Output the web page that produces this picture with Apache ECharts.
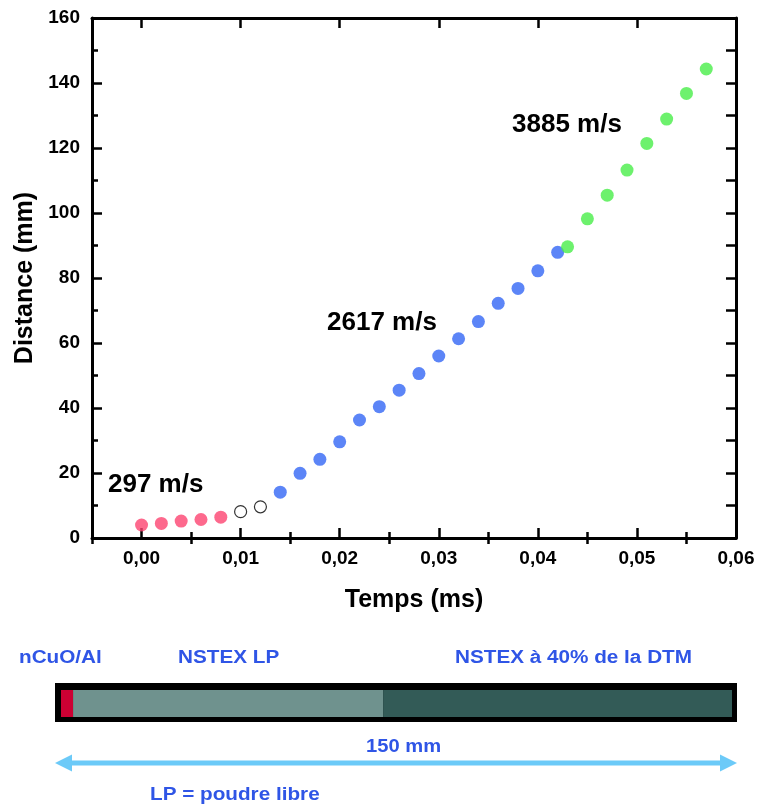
<!DOCTYPE html>
<html>
<head>
<meta charset="utf-8">
<script src="https://cdn.jsdelivr.net/npm/echarts@6/dist/echarts.min.js"></script>
<style>html,body{margin:0;padding:0;background:#fff;}#c{width:762px;height:805px;}</style>
</head>
<body>
<div id="c"></div>
<script>
// ---- data ----
var tRed = [0.000, 0.002, 0.004, 0.006, 0.008];
var dRed = [4.0, 4.5, 5.2, 5.7, 6.4];
var tOpen = [0.010, 0.012];
var dOpen = [8.1, 9.6];
var tBlue = [0.014, 0.016, 0.018, 0.020, 0.022, 0.024, 0.026, 0.028, 0.030, 0.032, 0.034, 0.036, 0.038, 0.040, 0.042];
var dBlue = [14.1, 19.9, 24.2, 29.6, 36.3, 40.4, 45.5, 50.6, 56.0, 61.3, 66.6, 72.2, 76.8, 82.2, 87.9];
var tGreen = [0.043, 0.045, 0.047, 0.049, 0.051, 0.053, 0.055, 0.057];
var dGreen = [89.6, 98.2, 105.5, 113.2, 121.4, 128.9, 136.8, 144.3];
var xMajor = [0.00, 0.01, 0.02, 0.03, 0.04, 0.05, 0.06];
var xMinor = [-0.005, 0.005, 0.015, 0.025, 0.035, 0.045, 0.055];
var speedLabels = ['297 m/s', '2617 m/s', '3885 m/s'];
var segNames = ['nCuO/Al', 'NSTEX LP', 'NSTEX à 40% de la DTM'];
var segLengths = [2.7, 69.3, 78.0]; // mm, total 150
var tubeLength = '150 mm';
var footnote = 'LP = poudre libre';

function pairs(xs, ys) { return xs.map(function (x, i) { return [x, ys[i]]; }); }

var FONT = '"Liberation Sans", Arial, sans-serif';
var lineStyle = { color: '#000', width: 3 };
var tickStyle = { color: '#000', width: 2.5 };

var chart = echarts.init(document.getElementById('c'), null, { renderer: 'canvas' });

var option = {
  backgroundColor: '#fff',
  animation: false,
  grid: [
    { left: 92, right: 26, top: 18, bottom: 267 },
    { left: 61, right: 30, top: 690, height: 27 }
  ],
  xAxis: [
    {
      type: 'value', gridIndex: 0, position: 'bottom', min: -0.005, max: 0.06,
      name: 'Temps (ms)', nameLocation: 'middle', nameGap: 50,
      nameTextStyle: { fontFamily: FONT, fontWeight: 'bold', fontSize: 25, color: '#000' },
      axisLine: { show: true, onZero: false, lineStyle: lineStyle },
      axisTick: { show: true, inside: true, length: 10, lineStyle: tickStyle, customValues: xMajor },
      axisLabel: {
        show: true, margin: 11, customValues: xMajor,
        fontFamily: FONT, fontWeight: 'bold', fontSize: 19, color: '#000',
        formatter: function (v) { return v.toFixed(2).replace('.', ','); }
      },
      splitLine: { show: false }
    },
    {
      type: 'value', gridIndex: 0, position: 'bottom', min: -0.005, max: 0.06,
      axisLine: { show: false },
      axisTick: { show: true, inside: true, length: 6, lineStyle: tickStyle, customValues: xMinor },
      axisLabel: { show: false }, splitLine: { show: false }
    },
    {
      type: 'value', gridIndex: 0, position: 'top', min: -0.005, max: 0.06,
      axisLine: { show: true, onZero: false, lineStyle: lineStyle },
      axisTick: { show: true, inside: true, length: 10, lineStyle: tickStyle, customValues: xMajor },
      axisLabel: { show: false }, splitLine: { show: false }
    },
    {
      type: 'value', gridIndex: 0, position: 'top', min: -0.005, max: 0.06,
      axisLine: { show: false },
      axisTick: { show: true, inside: true, length: 6, lineStyle: tickStyle, customValues: xMinor },
      axisLabel: { show: false }, splitLine: { show: false }
    },
    {
      type: 'value', gridIndex: 1, min: 0, max: 150, show: false
    }
  ],
  yAxis: [
    {
      type: 'value', gridIndex: 0, position: 'left', min: 0, max: 160, interval: 20,
      name: 'Distance (mm)', nameLocation: 'middle', nameGap: 53,
      nameTextStyle: { fontFamily: FONT, fontWeight: 'bold', fontSize: 25, color: '#000' },
      axisLine: { show: true, onZero: false, lineStyle: lineStyle },
      axisTick: { show: true, inside: true, length: 10, lineStyle: tickStyle },
      minorTick: { show: true, splitNumber: 2, length: 6, lineStyle: tickStyle },
      axisLabel: { show: true, margin: 12, fontFamily: FONT, fontWeight: 'bold', fontSize: 19, color: '#000' },
      splitLine: { show: false }
    },
    {
      type: 'value', gridIndex: 0, position: 'right', min: 0, max: 160, interval: 10,
      axisLine: { show: true, onZero: false, lineStyle: lineStyle },
      axisTick: { show: true, inside: true, length: 10, lineStyle: tickStyle },
      axisLabel: { show: false }, splitLine: { show: false }
    },
    {
      type: 'category', gridIndex: 1, data: ['tube'], show: false
    }
  ],
  series: [
    { type: 'scatter', xAxisIndex: 0, yAxisIndex: 0, data: pairs(tRed, dRed), symbolSize: 13,
      itemStyle: { color: '#fc4470' }, z: 5 },
    { type: 'scatter', xAxisIndex: 0, yAxisIndex: 0, data: pairs(tOpen, dOpen), symbolSize: 12,
      itemStyle: { color: '#fff', borderColor: '#000', borderWidth: 1.2 }, z: 5 },
    { type: 'scatter', xAxisIndex: 0, yAxisIndex: 0, data: pairs(tBlue, dBlue), symbolSize: 13,
      itemStyle: { color: '#3366f5' }, z: 5 },
    { type: 'scatter', xAxisIndex: 0, yAxisIndex: 0, data: pairs(tGreen, dGreen), symbolSize: 13,
      itemStyle: { color: '#48ee48' }, z: 6 },
    { type: 'bar', xAxisIndex: 4, yAxisIndex: 2, stack: 'tube', data: [segLengths[0]], barWidth: 27,
      itemStyle: { color: '#cc0033' }, z: 3 },
    { type: 'bar', xAxisIndex: 4, yAxisIndex: 2, stack: 'tube', data: [segLengths[1]], barWidth: 27,
      itemStyle: { color: '#6f928e' }, z: 3 },
    { type: 'bar', xAxisIndex: 4, yAxisIndex: 2, stack: 'tube', data: [segLengths[2]], barWidth: 27,
      itemStyle: { color: '#335b57' }, z: 3 }
  ],
  graphic: [
    { type: 'text', x: 108, y: 485, z: 10, style: { text: speedLabels[0], font: 'bold 26px ' + FONT, fill: '#000', textAlign: 'left', textVerticalAlign: 'middle' } },
    { type: 'text', x: 327, y: 323, z: 10, style: { text: speedLabels[1], font: 'bold 26px ' + FONT, fill: '#000', textAlign: 'left', textVerticalAlign: 'middle' } },
    { type: 'text', x: 512, y: 125, z: 10, style: { text: speedLabels[2], font: 'bold 26px ' + FONT, fill: '#000', textAlign: 'left', textVerticalAlign: 'middle' } },
    { type: 'rect', z: 0, shape: { x: 55, y: 683, width: 682, height: 39 }, style: { fill: '#000' } },
    { type: 'text', x: 19, y: 658, scaleX: 1.15, style: { text: segNames[0], font: 'bold 18px ' + FONT, fill: '#2f55e6', textAlign: 'left', textVerticalAlign: 'middle' } },
    { type: 'text', x: 178, y: 658, scaleX: 1.15, style: { text: segNames[1], font: 'bold 18px ' + FONT, fill: '#2f55e6', textAlign: 'left', textVerticalAlign: 'middle' } },
    { type: 'text', x: 455, y: 658, scaleX: 1.15, style: { text: segNames[2], font: 'bold 18px ' + FONT, fill: '#2f55e6', textAlign: 'left', textVerticalAlign: 'middle' } },
    { type: 'text', x: 366, y: 747, scaleX: 1.12, style: { text: tubeLength, font: 'bold 18px ' + FONT, fill: '#2f55e6', textAlign: 'left', textVerticalAlign: 'middle' } },
    { type: 'text', x: 150, y: 795, scaleX: 1.15, style: { text: footnote, font: 'bold 18px ' + FONT, fill: '#2f55e6', textAlign: 'left', textVerticalAlign: 'middle' } },
    { type: 'rect', shape: { x: 68, y: 760.5, width: 656, height: 5 }, style: { fill: '#6ccaf8' } },
    { type: 'polygon', shape: { points: [[55, 763], [72, 754.5], [72, 771.5]] }, style: { fill: '#6ccaf8' } },
    { type: 'polygon', shape: { points: [[737, 763], [720, 754.5], [720, 771.5]] }, style: { fill: '#6ccaf8' } }
  ]
};
chart.setOption(option);
</script>
</body>
</html>
